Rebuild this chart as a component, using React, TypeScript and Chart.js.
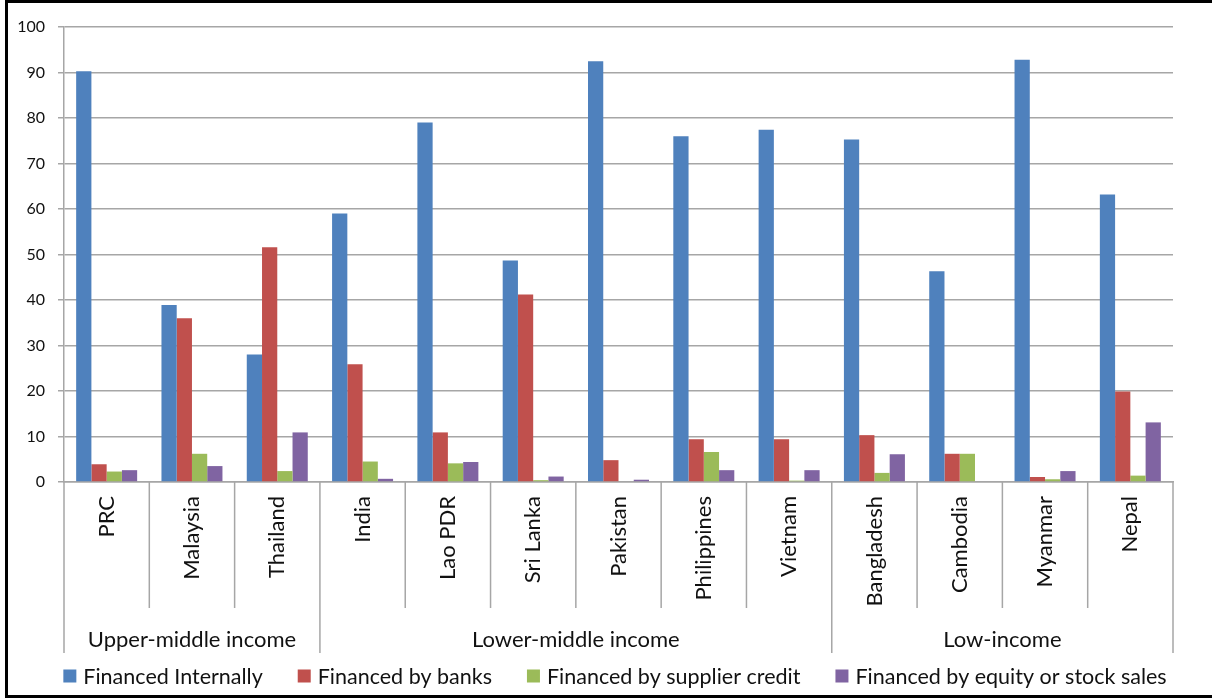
import React, { useEffect, useRef } from "react";
import { Chart, registerables } from "chart.js";

Chart.register(...registerables);

const countries = ["PRC", "Malaysia", "Thailand", "India", "Lao PDR", "Sri Lanka", "Pakistan", "Philippines", "Vietnam", "Bangladesh", "Cambodia", "Myanmar", "Nepal"];
const groupNames = ["Upper-middle income", "Lower-middle income", "Low-income"];
const groupSizes = [3, 6, 4];
const seriesNames = ["Financed Internally", "Financed by banks", "Financed by supplier credit", "Financed by equity or stock sales"];
const financedInternally = [90.3, 38.9, 28.0, 59.0, 79.0, 48.7, 92.5, 76.0, 77.4, 75.3, 46.3, 92.8, 63.2];
const financedByBanks = [3.9, 36.0, 51.6, 25.9, 10.9, 41.2, 4.8, 9.4, 9.4, 10.3, 6.2, 1.1, 19.9];
const financedBySupplier = [2.3, 6.2, 2.4, 4.5, 4.1, 0.4, 0, 6.6, 0.3, 2.0, 6.2, 0.6, 1.4];
const financedByEquity = [2.6, 3.5, 10.9, 0.7, 4.4, 1.2, 0.5, 2.6, 2.6, 6.1, 0, 2.4, 13.1];
const seriesColors = ["#4F81BD", "#C0504D", "#9BBB59", "#8064A2"];
const yMin = 0;
const yMax = 100;
const yStep = 10;

const FONT = "Lato";
const TEXT = "#111111";
const LINE = "#a6a6a6";

const groupPlugin = {
  id: "groupPlugin",
  afterDraw(chart: any) {
    const ctx = chart.ctx;
    const xs = chart.scales.x;
    const bottom = chart.chartArea.bottom;
    const n = countries.length;
    const half = (xs.getPixelForValue(1) - xs.getPixelForValue(0)) / 2;
    const groupBounds = new Set<number>();
    let acc = 0;
    groupBounds.add(0);
    groupSizes.forEach((g) => { acc += g; groupBounds.add(acc); });
    ctx.save();
    ctx.strokeStyle = LINE;
    ctx.lineWidth = 1.5;
    const boundaryPx: number[] = [];
    for (let i = 0; i <= n; i++) {
      const px = i < n ? xs.getPixelForValue(i) - half : xs.getPixelForValue(n - 1) + half;
      boundaryPx.push(px);
      const end = groupBounds.has(i) ? bottom + 171 : bottom + 126;
      ctx.beginPath();
      ctx.moveTo(px, bottom);
      ctx.lineTo(px, end);
      ctx.stroke();
    }
    // group labels
    ctx.fillStyle = TEXT;
    ctx.font = `22px ${FONT}`;
    ctx.textAlign = "center";
    ctx.textBaseline = "middle";
    let start = 0;
    groupSizes.forEach((g, gi) => {
      const l = boundaryPx[start];
      const r = boundaryPx[start + g];
      ctx.fillText(groupNames[gi], (l + r) / 2, bottom + 158);
      start += g;
    });
    // legend
    ctx.font = `21.5px ${FONT}`;
    ctx.textAlign = "left";
    const box = 13;
    const boxGap = 7;
    const itemGap = 35;
    const widths = seriesNames.map((s) => ctx.measureText(s).width);
    const total = widths.reduce((a, w) => a + box + boxGap + w, 0) + itemGap * (seriesNames.length - 1);
    let x = 615 - total / 2;
    const ly = 676;
    seriesNames.forEach((s, i) => {
      ctx.fillStyle = seriesColors[i];
      ctx.fillRect(x, ly - box / 2, box, box);
      ctx.fillStyle = TEXT;
      ctx.fillText(s, x + box + boxGap, ly + 1);
      x += box + boxGap + widths[i] + itemGap;
    });
    ctx.restore();
  },
};

export default function App() {
  const ref = useRef<HTMLCanvasElement | null>(null);
  useEffect(() => {
    if (!ref.current) return;
    const series = [financedInternally, financedByBanks, financedBySupplier, financedByEquity];
    const chart = new Chart(ref.current, {
      type: "bar",
      data: {
        labels: countries,
        datasets: series.map((d, i) => ({
          label: seriesNames[i],
          data: d,
          backgroundColor: seriesColors[i],
          borderWidth: 0,
          categoryPercentage: 0.715,
          barPercentage: 1.0,
        })),
      },
      options: {
        responsive: false,
        animation: false,
        devicePixelRatio: 1,
        layout: { padding: { top: 27, right: 39, left: 0, bottom: 0 } },
        plugins: { legend: { display: false }, tooltip: { enabled: false } },
        scales: {
          x: {
            grid: { display: false, drawTicks: false },
            border: { color: LINE, width: 1.5 },
            ticks: {
              autoSkip: false,
              minRotation: 90,
              maxRotation: 90,
              padding: 14,
              color: TEXT,
              font: { family: FONT, size: 22 },
            },
            afterFit: (s: any) => { s.height = 217; },
          },
          y: {
            min: yMin,
            max: yMax,
            ticks: { stepSize: yStep, color: TEXT, padding: 13, font: { family: FONT, size: 16 } },
            grid: { color: LINE, lineWidth: 1.5, tickLength: 6, drawTicks: true },
            border: { color: LINE, width: 1.5 },
            afterFit: (s: any) => { s.width = 64; },
          },
        },
      },
      plugins: [groupPlugin],
    });
    return () => chart.destroy();
  }, []);
  return (
    <div style={{ position: "absolute", left: 0, top: 0, width: 1212, height: 699, background: "#fff", overflow: "hidden" }}>
      <canvas ref={ref} width={1212} height={699} style={{ position: "absolute", left: 0, top: 0 }} />
      <div style={{ position: "absolute", left: 5, top: 0, width: 1212, height: 698, boxSizing: "border-box", border: "3px solid #000", pointerEvents: "none" }} />
    </div>
  );
}
